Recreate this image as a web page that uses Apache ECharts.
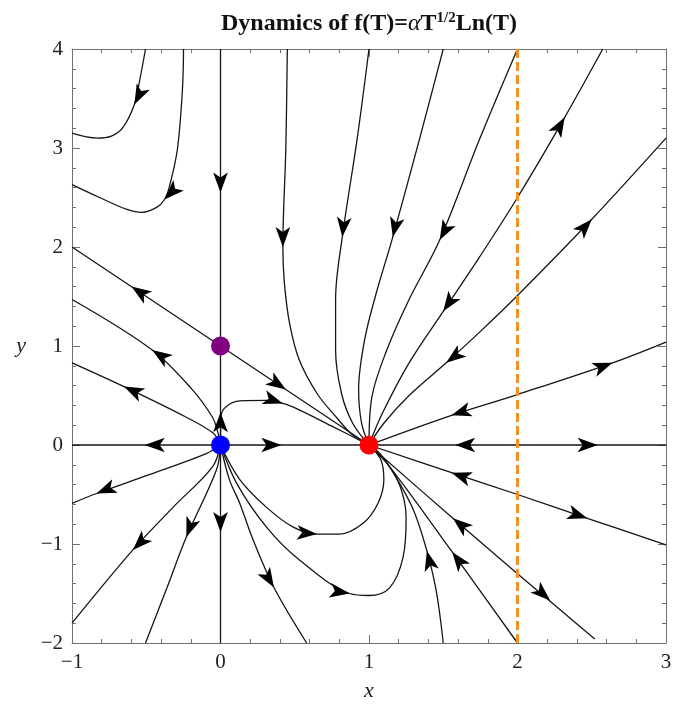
<!DOCTYPE html>
<html><head><meta charset="utf-8">
<script src="https://cdn.jsdelivr.net/npm/echarts@6/dist/echarts.min.js"></script>
<style>html,body{margin:0;padding:0;background:#fff}#c{width:682px;height:706px}</style>
</head><body><div id="c"></div>
<script>
// ---- axis ticks ----
const xTicks = [-1, 0, 1, 2, 3];
const yTicks = [-2, -1, 0, 1, 2, 3, 4];

// ---- streamlines (data coords) ----
const streamA = [[-0.505,4.0],[-0.546,3.67],[-0.58,3.44],[-0.658,3.205],[-0.735,3.12],[-0.83,3.10],[-1.0,3.15]];
const streamB = [[-0.249,4.0],[-0.256,3.6],[-0.29,2.99],[-0.344,2.61],[-0.377,2.48],[-0.43,2.40],[-0.53,2.35],[-0.63,2.38],[-0.815,2.5],[-1.0,2.63]];
const streamV = [[0,4],[0,-2]];
const streamH0 = [[-1,0],[3,0]];
const streamDiag = [[-1,2],[0,1],[1,0]];
const streamD = [[0.45,4.0],[0.44,3.0],[0.42,2.0],[0.43,1.64],[0.465,1.23],[0.53,0.86],[0.65,0.52],[0.78,0.28],[0.89,0.10],[1,0]];
const streamE = [[1.0,4.0],[0.92,3.09],[0.82,2.1],[0.775,1.47],[0.775,0.96],[0.815,0.52],[0.89,0.22],[1,0]];
const streamF = [[1.5,4.0],[1.34,3.09],[1.16,2.1],[1.05,1.54],[0.97,1.06],[0.93,0.56],[0.95,0.22],[1,0]];
const streamG = [[2.0,4.0],[1.745,3.09],[1.476,2.07],[1.27,1.47],[1.12,0.96],[1.02,0.49],[1,0]];
const streamH = [[2.574,4.0],[2.318,3.31],[2.0,2.5],[1.745,1.9],[1.50,1.35],[1.27,0.83],[1.09,0.32],[1,0]];
const streamI = [[3.0,3.1],[2.5,2.28],[2.0,1.51],[1.745,1.14],[1.52,0.83],[1.27,0.50],[1.1,0.22],[1,0]];
const streamJ = [[3.0,1.04],[2.64,0.83],[2.0,0.51],[1.556,0.30],[1,0]];
const streamL = [[1,0],[1.556,-0.28],[2.0,-0.50],[2.47,-0.74],[3.0,-1.01]];
const streamM = [[1,0],[1.565,-0.74],[2.0,-1.30],[2.52,-1.96]];
const streamN = [[1,0],[1.14,-0.22],[1.56,-1.08],[2.0,-2.0]];
const streamO = [[1.5,-2.0],[1.48,-1.75],[1.45,-1.45],[1.39,-1.07],[1.30,-0.66],[1.18,-0.32],[1.07,-0.08],[1,0]];
const streamP = [[0,0],[0.11,-0.39],[0.31,-0.83],[0.53,-1.16],[0.87,-1.50],[1.0,-1.52],[1.14,-1.44],[1.23,-1.13],[1.25,-0.73],[1.21,-0.42],[1.12,-0.18],[1,0]];
const streamQ = [[0,0],[0.13,-0.35],[0.31,-0.63],[0.49,-0.83],[0.65,-0.90],[0.80,-0.90],[0.96,-0.79],[1.06,-0.59],[1.10,-0.35],[1.08,-0.15],[1,0]];
const streamR = [[0,0],[0.06,-0.35],[0.13,-0.59],[0.22,-0.96],[0.36,-1.44],[0.58,-2.0]];
const streamL1 = [[0,0],[-0.02,0.14],[-0.054,0.28],[-0.19,0.56],[-0.46,0.96],[-1.0,1.47]];
const streamL2 = [[0,0],[-0.05,0.12],[-0.23,0.28],[-0.65,0.59],[-1.0,0.83]];
const streamL3 = [[0,0],[-0.1,-0.09],[-0.48,-0.30],[-0.835,-0.49],[-1.0,-0.59]];
const streamL4 = [[0,0],[-0.054,-0.22],[-0.32,-0.63],[-0.59,-1.06],[-1.0,-1.80]];
const streamL5 = [[0,0],[-0.027,-0.25],[-0.23,-0.93],[-0.36,-1.44],[-0.505,-2.0]];
const streamBC = [[0,0],[0.005,0.3],[0.04,0.39],[0.13,0.445],[0.31,0.45],[0.42,0.42],[0.53,0.355],[0.75,0.19],[1,0]];

// ---- arrowheads: [x, y, xAhead, yAhead] ----
const arrows = [
  [-0.58,3.44,-0.62,3.32], [-0.377,2.48,-0.43,2.40],
  [0,2.55,0,2.4], [0,0.33,0,0.45], [0,-0.88,0,-1.0],
  [0.42,2.0,0.42,1.85], [0.82,2.1,0.81,1.95], [1.16,2.1,1.14,1.97], [1.476,2.07,1.44,1.97],
  [2.318,3.31,2.36,3.42], [1.50,1.35,1.45,1.24],
  [2.5,2.28,2.56,2.38], [1.52,0.83,1.45,0.75],
  [2.64,0.83,2.72,0.875], [1.555,0.30,1.45,0.25],
  [-0.51,0,-0.6,0], [0.41,0,0.5,0], [1.58,0,1.5,0], [2.54,0,2.64,0],
  [2.47,-0.74,2.57,-0.79], [1.556,-0.28,1.46,-0.23],
  [2.22,-1.57,2.28,-1.65], [1.565,-0.74,1.5,-0.66],
  [1.56,-1.08,1.52,-1.0], [1.39,-1.07,1.37,-0.95],
  [0.87,-1.50,0.95,-1.52], [0.65,-0.90,0.73,-0.91], [0.36,-1.44,0.40,-1.54],
  [-0.60,1.60,-0.7,1.7], [0.44,0.56,0.52,0.48], [0.42,0.42,0.5,0.38],
  [-0.46,0.96,-0.55,1.05], [-0.65,0.59,-0.75,0.66],
  [-0.835,-0.49,-0.9,-0.53], [-0.59,-1.06,-0.65,-1.15], [-0.23,-0.93,-0.26,-1.05]
];

// ---- fixed points ----
const fixedPoints = [[0,1,'#800080'],[0,0,'#0000ff'],[1,0,'#ff0000']];
const dashedX = [[2,-2],[2,4]];

const streams = [streamA,streamB,streamV,streamH0,streamDiag,streamD,streamE,streamF,streamG,streamH,streamI,streamJ,streamL,streamM,streamN,streamO,streamP,streamQ,streamR,streamL1,streamL2,streamL3,streamL4,streamL5,streamBC];

const serif = 'Liberation Serif, Times New Roman, serif';
const axisCol = '#707070';
const fmt = v => String(v).replace('-', '\u2212');
function mkX(pos, lab){
  return {type:'value', position:pos, min:xTicks[0], max:xTicks[xTicks.length-1], interval:1,
    axisLine:{show:true, onZero:false, lineStyle:{color:axisCol,width:1}},
    axisTick:{show:true, inside:true, length:8, lineStyle:{color:axisCol}},
    minorTick:{show:true, splitNumber:5, length:4, lineStyle:{color:axisCol}},
    splitLine:{show:false},
    axisLabel:{show:lab, margin:9, fontFamily:serif, fontSize:21, color:'#222', formatter:fmt, hideOverlap:false},
    name: lab ? 'x' : '', nameLocation:'middle', nameGap:37,
    nameTextStyle:{fontFamily:serif, fontStyle:'italic', fontSize:22, color:'#222'}};
}
function mkY(pos, lab){
  return {type:'value', position:pos, min:yTicks[0], max:yTicks[yTicks.length-1], interval:1,
    axisLine:{show:true, onZero:false, lineStyle:{color:axisCol,width:1}},
    axisTick:{show:true, inside:true, length:8, lineStyle:{color:axisCol}},
    minorTick:{show:true, splitNumber:5, length:4, lineStyle:{color:axisCol}},
    splitLine:{show:false},
    axisLabel:{show:lab, margin:9, fontFamily:serif, fontSize:21, color:'#222', formatter:fmt, hideOverlap:false},
    name: lab ? 'y' : '', nameLocation:'middle', nameGap:46, nameRotate:0,
    nameTextStyle:{fontFamily:serif, fontStyle:'italic', fontSize:22, color:'#222'}};
}

const series = streams.map(d => ({type:'line', data:d, smooth:0.35, symbol:'none', showSymbol:false,
  lineStyle:{color:'#151515', width:1.3}, silent:true, z:2, animation:false, xAxisIndex:0, yAxisIndex:0}));
series.push({type:'line', data:dashedX, symbol:'none', lineStyle:{color:'#f39125', width:3, type:[9,4]}, z:3, animation:false, silent:true});
series.push({id:'arrows', type:'scatter', symbol:'arrow', symbolSize:[11,20], itemStyle:{color:'#000', opacity:1}, z:4, animation:false, silent:true,
  data: arrows.map(a => ({value:[a[0],a[1]]}))});
series.push({type:'scatter', symbolSize:19, z:5, animation:false, silent:true,
  data: fixedPoints.map(p => ({value:[p[0],p[1]], itemStyle:{color:p[2], opacity:1}}))});

const option = {
  backgroundColor:'#fff',
  animation:false,
  grid:{left:72, right:16, top:49, bottom:63, containLabel:false, outerBoundsMode:'none'},
  xAxis:[mkX('bottom', true), mkX('top', false)],
  yAxis:[mkY('left', true), mkY('right', false)],
  graphic:[{type:'text', x:369, y:23, z:10, style:{
    text:'{b|Dynamics of f(T)=}{i|α}{b|T}{s|1/2}{b|Ln(T)}',
    align:'center', verticalAlign:'middle',
    rich:{
      b:{fontFamily:serif, fontWeight:'bold', fontSize:24, fill:'#111', verticalAlign:'bottom'},
      i:{fontFamily:serif, fontStyle:'italic', fontSize:24, fill:'#111', verticalAlign:'bottom'},
      s:{fontFamily:serif, fontWeight:'bold', fontSize:15, fill:'#111', verticalAlign:'bottom', padding:[0,0,10,0]}
    }}}],
  series: series
};

const chart = echarts.init(document.getElementById('c'), null, {renderer:'canvas'});
chart.setOption(option);
const arrowData = arrows.map(a => {
  const p = chart.convertToPixel({seriesIndex:0}, [a[0],a[1]]);
  const q = chart.convertToPixel({seriesIndex:0}, [a[2],a[3]]);
  const ang = Math.atan2(-(q[1]-p[1]), q[0]-p[0]) * 180 / Math.PI;
  return {value:[a[0],a[1]], symbolRotate: ang - 90};
});
chart.setOption({series:[{id:'arrows', data:arrowData}]});
</script></body></html>
